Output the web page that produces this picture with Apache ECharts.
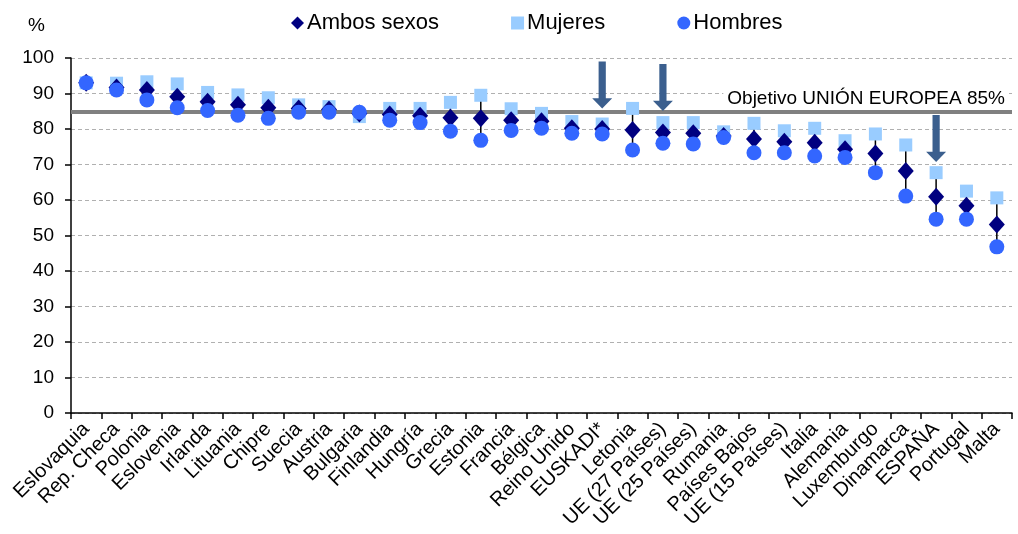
<!DOCTYPE html>
<html><head><meta charset="utf-8">
<script src="https://cdn.jsdelivr.net/npm/echarts@6/dist/echarts.min.js"></script>
<style>html,body{margin:0;padding:0;background:#fff}#c{width:1018px;height:534px}</style>
</head><body><div id="c"></div>
<script>
const categories = ['Eslovaquia','Rep. Checa','Polonia','Eslovenia','Irlanda','Lituania','Chipre','Suecia','Austria','Bulgaria','Finlandia','Hungría','Grecia','Estonia','Francia','Bélgica','Reino Unido','EUSKADI*','Letonia','UE (27 Países)','UE (25 Países)','Rumania','Países Bajos','UE (15 Países)','Italia','Alemania','Luxemburgo','Dinamarca','ESPAÑA','Portugal','Malta'];
const ambos   = [93.0,91.7,91.0,89.1,87.7,86.8,86.0,85.8,85.5,84.4,84.1,83.7,83.2,83.0,82.5,82.2,80.2,80.0,79.7,79.0,78.8,78.0,77.2,76.4,76.1,74.3,73.1,68.2,60.9,58.4,53.1];
const mujeres = [93.0,92.9,93.3,92.7,90.3,89.6,88.8,86.8,86.3,83.5,85.8,85.8,87.5,89.5,85.7,84.4,82.1,81.4,85.8,81.8,81.8,79.2,81.6,79.5,80.2,76.7,78.6,75.5,67.7,62.5,60.6];
const hombres = [93.0,91.0,88.2,86.0,85.2,83.9,83.0,84.7,84.7,84.7,82.5,81.8,79.4,76.8,79.6,80.2,78.8,78.6,74.1,76.0,75.8,77.6,73.3,73.3,72.4,72.0,67.7,61.1,54.6,54.6,46.8];
const objetivo = 85;
const yTicks = [0,10,20,30,40,50,60,70,80,90,100];
const arrows = [['EUSKADI*',92.4],['UE (27 Países)',91.7],['ESPAÑA',77.3]];

const font = '"Liberation Sans", Arial, sans-serif';
const chart = echarts.init(document.getElementById('c'));
const arrowPath = 'path://M32,0 L68,0 L68,78 L100,78 L50,100 L0,78 L32,78 Z';
chart.setOption({
  animation: false,
  textStyle: {fontFamily: font},
  grid: {left: 71, right: 6, top: 58, bottom: 121},
  legend: {
    top: 7, left: 286, itemGap: 72, itemWidth: 13, itemHeight: 13,
    textStyle: {fontSize: 22, color: '#000', fontFamily: font, padding:[0,0,0,-2]},
    data: [{name:'Ambos sexos', icon:'diamond'},{name:'Mujeres', icon:'rect'},{name:'Hombres', icon:'circle'}]
  },
  graphic: [{type:'text', left: 28, top: 16, style:{text:'%', fontSize:19, fill:'#000', fontFamily: font}}],
  xAxis: {
    type: 'category', data: categories, boundaryGap: true,
    axisLine: {lineStyle: {color:'#000', width:1.5}},
    axisTick: {show:true, alignWithLabel:false, length:6, lineStyle:{color:'#000', width:1.5}},
    axisLabel: {rotate: 45, fontSize: 20, color:'#000', interval: 0, margin: 13, fontFamily: font},
    splitLine: {show:false}
  },
  yAxis: {
    type: 'value', min: yTicks[0], max: yTicks[yTicks.length-1], interval: 10,
    axisLine: {show:true, lineStyle:{color:'#000', width:1.5}},
    axisTick: {show:true, length:6, lineStyle:{color:'#000', width:1.5}},
    axisLabel: {fontSize: 19, color:'#000', margin: 17, fontFamily: font},
    splitLine: {show:true, lineStyle:{color:'#B0B0B0', type:[4,3], width:1}}
  },
  series: [
    {
      type: 'custom', name: 'hl', silent: true, z: 2,
      data: categories.map((c,i)=>[i, mujeres[i], hombres[i]]),
      renderItem: function(params, api){
        const a = api.coord([api.value(0), api.value(1)]);
        const b = api.coord([api.value(0), api.value(2)]);
        return {type:'line', shape:{x1:a[0],y1:a[1],x2:b[0],y2:b[1]}, style:{stroke:'#000', lineWidth:1.5}};
      }
    },
    {
      type: 'scatter', name: 'Mujeres', data: mujeres, symbol: 'rect', symbolSize: 13, z: 3,
      itemStyle: {color: '#99CCFF', opacity: 1},
      markLine: {
        silent: true, symbol: 'none', z: 1,
        lineStyle: {color:'#808080', width: 4, type:'solid', opacity: 1},
        label: {show:true, position:'insideEndTop', formatter:'Objetivo UNIÓN EUROPEA 85%', fontSize:19, color:'#000', backgroundColor:'#fff', padding:[0,4,0,4], distance: 3, fontFamily: font},
        data: [{yAxis: objetivo}]
      }
    },
    {
      type: 'scatter', name: 'Ambos sexos', data: ambos, symbol: 'diamond', symbolSize: [16,18], z: 4,
      itemStyle: {color: '#000080', opacity: 1},
      markPoint: {
        symbol: arrowPath, symbolSize: [20, 47], silent: true, z: 6,
        itemStyle: {color:'#3B5F8E', opacity: 1}, label: {show:false},
        data: arrows.map(a => ({coord: [a[0], a[1]]}))
      }
    },
    {
      type: 'scatter', name: 'Hombres', data: hombres, symbol: 'circle', symbolSize: 15, z: 5,
      itemStyle: {color: '#3366FF', opacity: 1}
    }
  ]
});
</script></body></html>
